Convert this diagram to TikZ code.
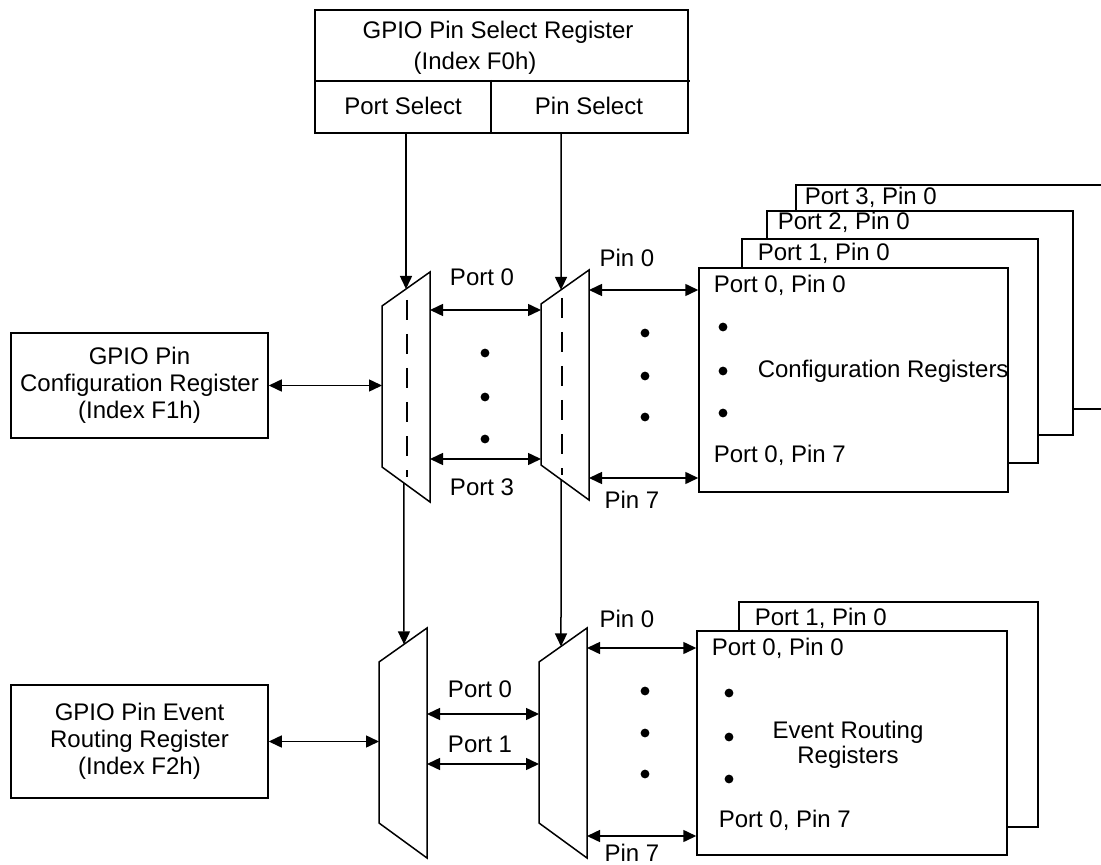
\documentclass[tikz,border=0pt]{standalone}
\usepackage{fontspec}
\setmainfont{Liberation Sans}
\usetikzlibrary{arrows.meta,calc}

\tikzset{
  regbox/.style={draw, fill=white, inner sep=0pt},
  lbl/.style={inner sep=0pt},
  arr/.style={-{Triangle[length=6.5pt,width=6pt]}},
  dblarr/.style={{Triangle[length=6.5pt,width=6pt]}-{Triangle[length=6.5pt,width=6pt]}},
  guide/.style={dash pattern=on 10pt off 7pt},
}

\begin{document}
\begin{tikzpicture}[x=0.5pt,y=-0.5pt, line width=0.75pt, font=\fontsize{12}{13.5}\selectfont]
\useasboundingbox (0,0) rectangle (1101,865);
\clip (0,0) rectangle (1101,865);

% Select register
\node[regbox, minimum width=186.5pt, minimum height=61.5pt] (selreg) at (501.5,71.5) {};
\draw (selreg.west |- 0,81) -- (690,81);
\draw (491,80) -- (selreg.south -| 491,0);
\node[lbl] (seltitle) at (498,32) {GPIO Pin Select Register};
\node[lbl] (selidx) at (475,63) {(Index F0h)};
\node[lbl] (portsel) at (403,106) {Port Select};
\node[lbl] (pinsel) at (589,106) {Pin Select};
\coordinate (portout) at (selreg.south -| 406,0);
\coordinate (pinout) at (selreg.south -| 561,0);

% Left registers
\node[regbox, minimum width=128.5pt, minimum height=52.5pt, align=center] (cfgreg) at (139.5,385.5)
  {GPIO Pin\\Configuration Register\\(Index F1h)};
\node[regbox, minimum width=128.5pt, minimum height=56.5pt, align=center] (evtreg) at (139.5,741.5)
  {GPIO Pin Event\\Routing Register\\(Index F2h)};

% Muxes
\foreach \m/\x/\y in {ptsel/382/306, pnsel/541/304, ptevt/379/662, pnevt/539/662}{
  \coordinate (\m-tl) at (\x,\y);
  \coordinate (\m-tr) at (\x+48,\y-34);
  \coordinate (\m-br) at (\x+48,\y+196);
  \coordinate (\m-bl) at (\x,\y+161);
  \draw (\m-tl) -- (\m-tr) -- (\m-br) -- (\m-bl) -- cycle;
}
\draw[guide] (407,300) -- (407,477);
\draw[guide] (562,298) -- (562,475);

% Select lines
\draw[arr] (portout) -- ($(ptsel-tl)!0.5!(ptsel-tr)$);
\draw[arr] (pinout) -- ($(pnsel-tl)!0.417!(pnsel-tr)$);
\draw[arr] ($(ptsel-bl)!0.458!(ptsel-br)$) -- ($(ptevt-tl)!0.52!(ptevt-tr)$);
\draw[arr] ($(pnsel-bl)!0.417!(pnsel-br)$) -- ($(pnevt-tl)!0.458!(pnevt-tr)$);

\draw[dblarr] (cfgreg.east) -- (cfgreg.east -| ptsel-tl);
\draw[dblarr] (evtreg.east) -- (evtreg.east -| ptevt-tl);

% Configuration register stack
\node[regbox, minimum width=157pt, minimum height=112pt] (cfg3) at (953,297) {};
\node[regbox, minimum width=153pt, minimum height=112pt] (cfg2) at (920,323) {};
\node[regbox, minimum width=148pt, minimum height=112pt] (cfg1) at (890,351) {};
\node[regbox, minimum width=154.5pt, minimum height=112pt] (cfg0) at (853.5,380) {};
\node[lbl, anchor=west] (cfg3lbl) at (804,197) {Port 3, Pin 0};
\node[lbl, anchor=west] (cfg2lbl) at (777,222) {Port 2, Pin 0};
\node[lbl, anchor=west] (cfg1lbl) at (757,253) {Port 1, Pin 0};
\node[lbl, anchor=west] (cfg0top) at (713,285) {Port 0, Pin 0};
\node[lbl, anchor=west] (cfgname) at (757,371) {Configuration Registers};
\node[lbl, anchor=west] (cfg0bot) at (713,455) {Port 0, Pin 7};
\foreach \y in {327,371,413} \fill (723,\y) circle[radius=2.2pt];

% Event routing register stack
\node[regbox, minimum width=149.5pt, minimum height=112.5pt] (evt1) at (888.5,714.5) {};
\node[regbox, minimum width=155pt, minimum height=112pt] (evt0) at (852,743) {};
\node[lbl, anchor=west] (evt1lbl) at (754,618) {Port 1, Pin 0};
\node[lbl, anchor=west] (evt0top) at (711,648) {Port 0, Pin 0};
\node[lbl, align=center, font=\fontsize{12}{12.5}\selectfont] (evtname) at (848,745) {Event Routing\\Registers};
\node[lbl, anchor=west] (evt0bot) at (718,820) {Port 0, Pin 7};
\foreach \y in {693,737,779} \fill (729,\y) circle[radius=2.2pt];

% Port links
\draw[dblarr] (ptsel-tr |- 0,310) -- (pnsel-tl |- 0,310);
\draw[dblarr] (ptsel-tr |- 0,459) -- (pnsel-tl |- 0,459);
\node[lbl] (pt0a) at (482,277) {Port 0};
\node[lbl] (pt3a) at (482,487) {Port 3};
\foreach \y in {353,397,439} \fill (485,\y) circle[radius=2.2pt];

\draw[dblarr] (ptevt-tr |- 0,714) -- (pnevt-tl |- 0,714);
\draw[dblarr] (ptevt-tr |- 0,764) -- (pnevt-tl |- 0,764);
\node[lbl] (pt0b) at (480,689) {Port 0};
\node[lbl] (pt1b) at (480,744) {Port 1};

% Pin links
\draw[dblarr] (pnsel-tr |- 0,290) -- (cfg0.west |- 0,290);
\draw[dblarr] (pnsel-tr |- 0,478) -- (cfg0.west |- 0,478);
\node[lbl] (pn0a) at (627,258) {Pin 0};
\node[lbl] (pn7a) at (632,500) {Pin 7};
\foreach \y in {333,376,417} \fill (645,\y) circle[radius=2.2pt];

\draw[dblarr] (pnevt-tr |- 0,648) -- (evt0.west |- 0,648);
\draw[dblarr] (pnevt-tr |- 0,836) -- (evt0.west |- 0,836);
\node[lbl] (pn0b) at (627,619) {Pin 0};
\node[lbl] (pn7b) at (632,853) {Pin 7};
\foreach \y in {691,733,774} \fill (645,\y) circle[radius=2.2pt];

\end{tikzpicture}
\end{document}
